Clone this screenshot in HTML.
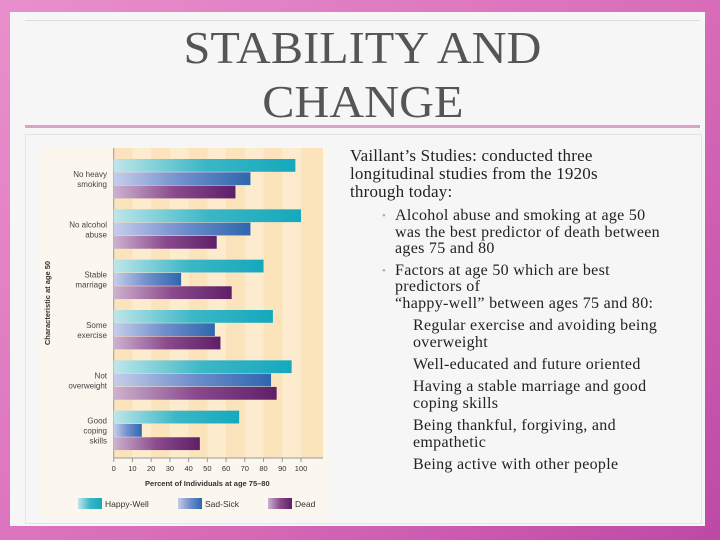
<!DOCTYPE html>
<html><head><meta charset="utf-8"><style>
body{margin:0;width:720px;height:540px;overflow:hidden;background:linear-gradient(135deg,#e98fcc,#d76ab8 60%,#bd49a6);font-family:"Liberation Serif",serif;}
#slide{position:absolute;left:10px;top:12px;width:695px;height:514px;background:#f6f6f6;}
#title{position:absolute;left:15px;top:8px;width:675px;height:108px;border-top:1px solid #ddd;border-bottom:3px solid #d9a3c6;text-align:center;font-size:46px;line-height:54px;color:#555;padding-top:0px;box-sizing:border-box;transform-origin:center;}
#title span{display:inline-block;transform:scale(1.05,1);}
#body{position:absolute;left:15px;top:122px;width:675px;height:388px;border:1px solid #e4e4e4;}
#text{position:absolute;left:350px;top:147px;width:330px;color:#222;}
.p{font-size:17px;line-height:18px;letter-spacing:0.2px;}
.b1{font-size:16px;line-height:16.5px;letter-spacing:0.3px;margin:5px 0 0 45px;position:relative;}
.b1:before{content:"•";position:absolute;left:-13px;color:#c9a;font-size:11px;}
.b2{font-size:16px;line-height:17px;letter-spacing:0.3px;margin:5px 0 0 63px;}
</style></head><body>
<div id="slide">
<div id="title"><span>STABILITY AND</span><br><span>CHANGE</span></div>
<div id="body"></div>
</div>
<svg id="chart" width="720" height="540" style="position:absolute;left:0;top:0" font-family="Liberation Sans, sans-serif">
<defs>
<linearGradient id="gHW" x1="0" x2="1"><stop offset="0" stop-color="#bfe6ea"/><stop offset="0.5" stop-color="#3bb7c6"/><stop offset="1" stop-color="#15a8bd"/></linearGradient>
<linearGradient id="gSS" x1="0" x2="1"><stop offset="0" stop-color="#c6cdea"/><stop offset="0.5" stop-color="#6f8fcc"/><stop offset="1" stop-color="#2f66ae"/></linearGradient>
<linearGradient id="gD" x1="0" x2="1"><stop offset="0" stop-color="#cdb2cf"/><stop offset="0.5" stop-color="#8a4a8c"/><stop offset="1" stop-color="#5e1f68"/></linearGradient>
</defs>
<rect x="40" y="147" width="290" height="370" fill="#fbf7ee"/>
<g id="plot"></g>
</svg>
<div id="text">
<div class="p">Vaillant’s Studies: conducted three<br>longitudinal studies from the 1920s<br>through today:</div>
<div class="b1" style="margin-top:7px">Alcohol abuse and smoking at age 50<br>was the best predictor of death between<br>ages 75 and 80</div>
<div class="b1">Factors at age 50 which are best<br>predictors of<br>“happy-well” between ages 75 and 80:</div>
<div class="b2">Regular exercise and avoiding being overweight</div>
<div class="b2">Well-educated and future oriented</div>
<div class="b2">Having a stable marriage and good coping skills</div>
<div class="b2">Being thankful, forgiving, and empathetic</div>
<div class="b2">Being active with other people</div>
</div>
<script>
const categories=[["No heavy","smoking"],["No alcohol","abuse"],["Stable","marriage"],["Some","exercise"],["Not","overweight"],["Good","coping","skills"]];
const happyWell=[97,100,80,85,95,67];
const sadSick=[73,73,36,54,84,15];
const dead=[65,55,63,57,87,46];
const ticks=[0,10,20,30,40,50,60,70,80,90,100];
const NS="http://www.w3.org/2000/svg";
const g=document.getElementById('plot');
const x0=113.7,x100=301,plotTop=148,plotBot=458,plotRight=323;
const X=v=>x0+(x100-x0)*v/100;
function mk(t,a,p){const e=document.createElementNS(NS,t);for(const k in a)e.setAttribute(k,a[k]);(p||g).appendChild(e);return e;}
const bg=mk('rect',{x:x0,y:plotTop,width:plotRight-x0,height:plotBot-plotTop,fill:'#fbe3bb'});


ticks.forEach(t=>{if(t%20==10){mk('rect',{x:X(t),y:plotTop,width:X(10)-X(0),height:plotBot-plotTop,fill:'#fdebcd'});}});
mk('line',{x1:x0,y1:plotTop,x2:x0,y2:plotBot,stroke:'#999','stroke-width':1});
mk('line',{x1:x0,y1:plotBot,x2:plotRight,y2:plotBot,stroke:'#999','stroke-width':1});
ticks.forEach(t=>{
 mk('line',{x1:X(t),y1:plotBot,x2:X(t),y2:plotBot+4,stroke:'#999'});
 const tx=mk('text',{x:X(t),y:plotBot+13,'font-size':7.5,'text-anchor':'middle',fill:'#333'});tx.textContent=t;
 
 
});
const groupH=(plotBot-plotTop-8)/categories.length, barH=13.3;
const series=[[happyWell,'url(#gHW)','happy-well'],[sadSick,'url(#gSS)','sad-sick'],[dead,'url(#gD)','dead']];
categories.forEach((c,i)=>{
 const gy=plotTop+11+i*groupH;
 series.forEach((s,j)=>{
  const r=mk('rect',{x:x0,y:gy+j*barH,width:X(s[0][i])-x0,height:barH-0.5,fill:s[1]});
  
  
 });
 const mid=gy+1.5*barH, n=c.length;
 c.forEach((l,k)=>{const t=mk('text',{x:107,y:mid+(k-(n-1)/2)*10+3,'font-size':8,'text-anchor':'end',fill:'#444'});t.textContent=l;
 
 });
});
const xt=mk('text',{x:(x0+x100)/2,y:486,'font-size':7.5,'font-weight':'bold','text-anchor':'middle',fill:'#333'});xt.textContent='Percent of Individuals at age 75–80';


const yt=mk('text',{x:0,y:0,'font-size':7.5,'font-weight':'bold','text-anchor':'middle',fill:'#333',transform:'translate(50,303) rotate(-90)'});yt.textContent='Characteristic at age 50';


const legend=[['Happy-Well','url(#gHW)',78],['Sad-Sick','url(#gSS)',178],['Dead','url(#gD)',268]];
legend.forEach(L=>{
 const r=mk('rect',{x:L[2],y:498,width:24,height:11,fill:L[1]});
 
 
 const t=mk('text',{x:L[2]+27,y:507,'font-size':8.5,fill:'#333'});t.textContent=L[0];
 
 
});
</script>
</body></html>
